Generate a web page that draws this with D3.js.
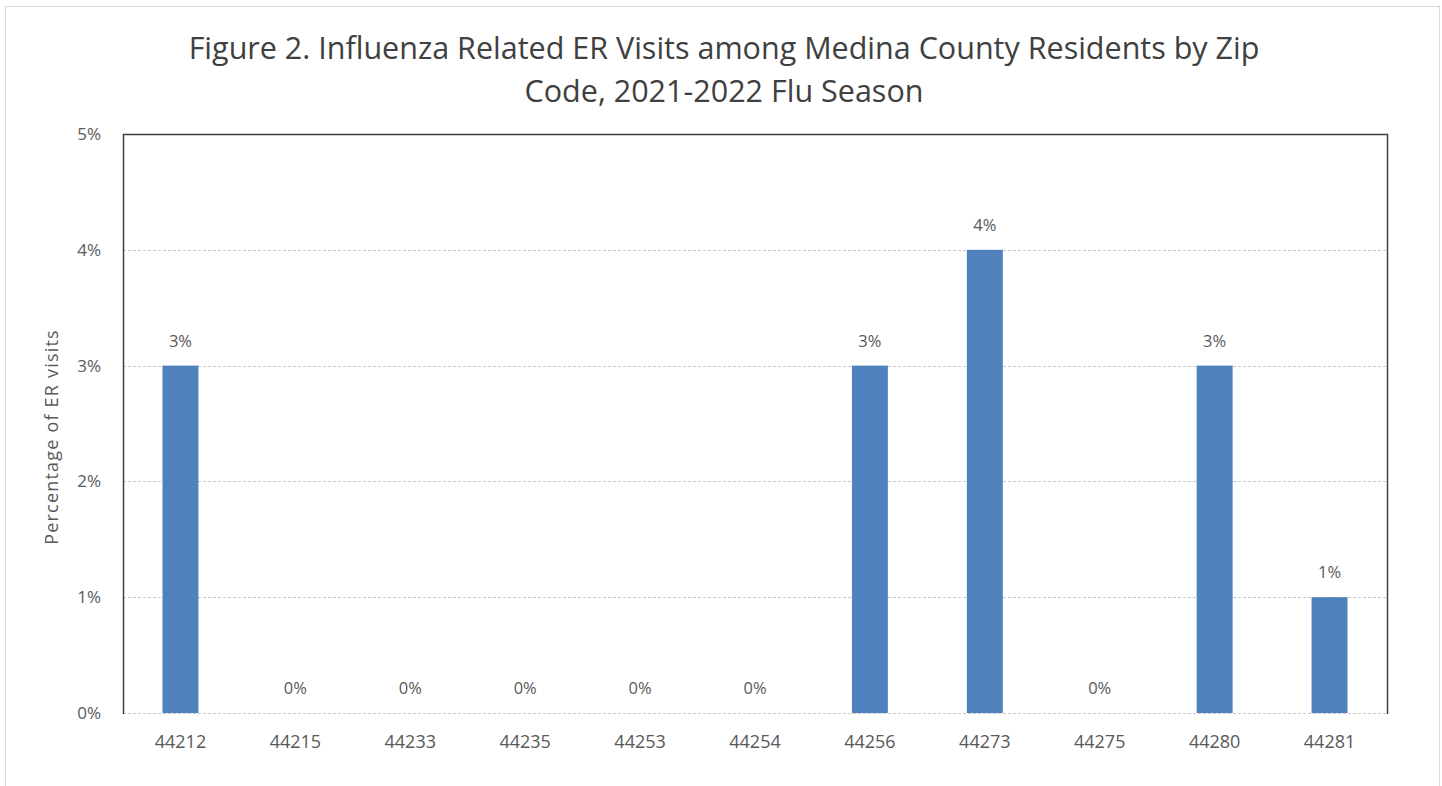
<!DOCTYPE html>
<html lang="en">
<head>
    <meta charset="UTF-8">
    <title>Influenza Related ER Visits by Zip Code</title>
    <script src="https://cdn.jsdelivr.net/npm/d3@7/dist/d3.min.js"></script>
    <style>
        body { margin: 0; background: #fff; }
        text { font-family: "Open Sans", "Liberation Sans", sans-serif; fill: #595959; }
    </style>
</head>
<body>
<script>
    // data
    const zipCodes = ['44212', '44215', '44233', '44235', '44253', '44254', '44256', '44273', '44275', '44280', '44281'];
    const erPercent = [3, 0, 0, 0, 0, 0, 3, 4, 0, 3, 1];
    const yTicks = [0, 1, 2, 3, 4, 5];
    const titleLines = ['Figure 2. Influenza Related ER Visits among Medina County Residents by Zip', 'Code, 2021-2022 Flu Season'];
    const yLabel = 'Percentage of ER visits';

    const width = 1442;
    const height = 786;

    // plot area
    const plot = { left: 123, top: 134, right: 1387, bottom: 713 };

    let svg = d3.select('body')
        .append('svg')
        .attr('width', width)
        .attr('height', height);

    // outer chart frame
    svg.append('rect')
        .attr('x', 5.5)
        .attr('y', 6.5)
        .attr('width', 1434)
        .attr('height', 800)
        .attr('fill', 'none')
        .attr('stroke', '#d9d9d9');

    let xScale = d3.scaleBand()
        .domain(zipCodes)
        .range([plot.left, plot.right])
        .paddingInner(0.687)
        .paddingOuter(0.3435);

    let yScale = d3.scaleLinear()
        .domain([0, 5])
        .range([plot.bottom, plot.top]);

    // gridlines
    svg.append('g')
        .selectAll('line')
        .data(yTicks.filter(d => d > 0 && d < 5))
        .join('line')
        .attr('x1', plot.left)
        .attr('x2', plot.right)
        .attr('y1', d => Math.round(yScale(d)) + 0.5)
        .attr('y2', d => Math.round(yScale(d)) + 0.5)
        .attr('stroke', '#c8c8c8')
        .attr('stroke-dasharray', '3,2');

    // bars
    svg.append('g')
        .selectAll('rect')
        .data(erPercent)
        .join('rect')
        .attr('x', (d, i) => xScale(zipCodes[i]))
        .attr('y', d => yScale(d))
        .attr('width', xScale.bandwidth())
        .attr('height', d => yScale(0) - yScale(d))
        .attr('fill', '#4f81bd');

    // bottom axis line (dashed grey)
    svg.append('line')
        .attr('x1', plot.left)
        .attr('x2', plot.right)
        .attr('y1', plot.bottom + 0.5)
        .attr('y2', plot.bottom + 0.5)
        .attr('stroke', '#c8c8c8')
        .attr('stroke-dasharray', '3,2');

    // plot border: left, top, right
    svg.append('path')
        .attr('d', `M${plot.left + 0.5},${plot.bottom + 1}V${plot.top + 0.5}H${plot.right + 0.5}V${plot.bottom + 1}`)
        .attr('fill', 'none')
        .attr('stroke', '#404040')
        .attr('stroke-width', 1.5);

    // y axis
    let yAxis = d3.axisLeft(yScale)
        .tickValues(yTicks)
        .tickFormat(d => d + '%')
        .tickSize(0)
        .tickPadding(22);

    svg.append('g')
        .attr('transform', `translate(${plot.left}, 0)`)
        .call(yAxis)
        .call(g => g.select('.domain').remove())
        .selectAll('text')
        .attr('font-size', 17)
        .style('font-family', '"Open Sans", "Liberation Sans", sans-serif')
        .attr('fill', '#595959');

    // x axis
    let xAxis = d3.axisBottom(xScale)
        .tickSize(0)
        .tickPadding(22);

    svg.append('g')
        .attr('transform', `translate(0, ${plot.bottom})`)
        .call(xAxis)
        .call(g => g.select('.domain').remove())
        .selectAll('text')
        .attr('font-size', 18)
        .style('font-family', '"Open Sans", "Liberation Sans", sans-serif')
        .attr('fill', '#595959');

    // data labels
    svg.append('g')
        .selectAll('text')
        .data(erPercent)
        .join('text')
        .attr('x', (d, i) => xScale(zipCodes[i]) + xScale.bandwidth() / 2)
        .attr('y', d => yScale(d) - 19)
        .attr('text-anchor', 'middle')
        .attr('font-size', 16.5)
        .text(d => d + '%');

    // title
    svg.append('g')
        .selectAll('text')
        .data(titleLines)
        .join('text')
        .attr('x', 724)
        .attr('y', (d, i) => 59 + i * 43)
        .attr('text-anchor', 'middle')
        .attr('font-size', 30.5)
        .attr('fill', '#404040')
        .style('fill', '#404040')
        .text(d => d);

    // y axis label
    svg.append('text')
        .attr('transform', `translate(58, 437) rotate(-90)`)
        .attr('text-anchor', 'middle')
        .attr('font-size', 18)
        .attr('letter-spacing', 1.2)
        .text(yLabel);
</script>
</body>
</html>
